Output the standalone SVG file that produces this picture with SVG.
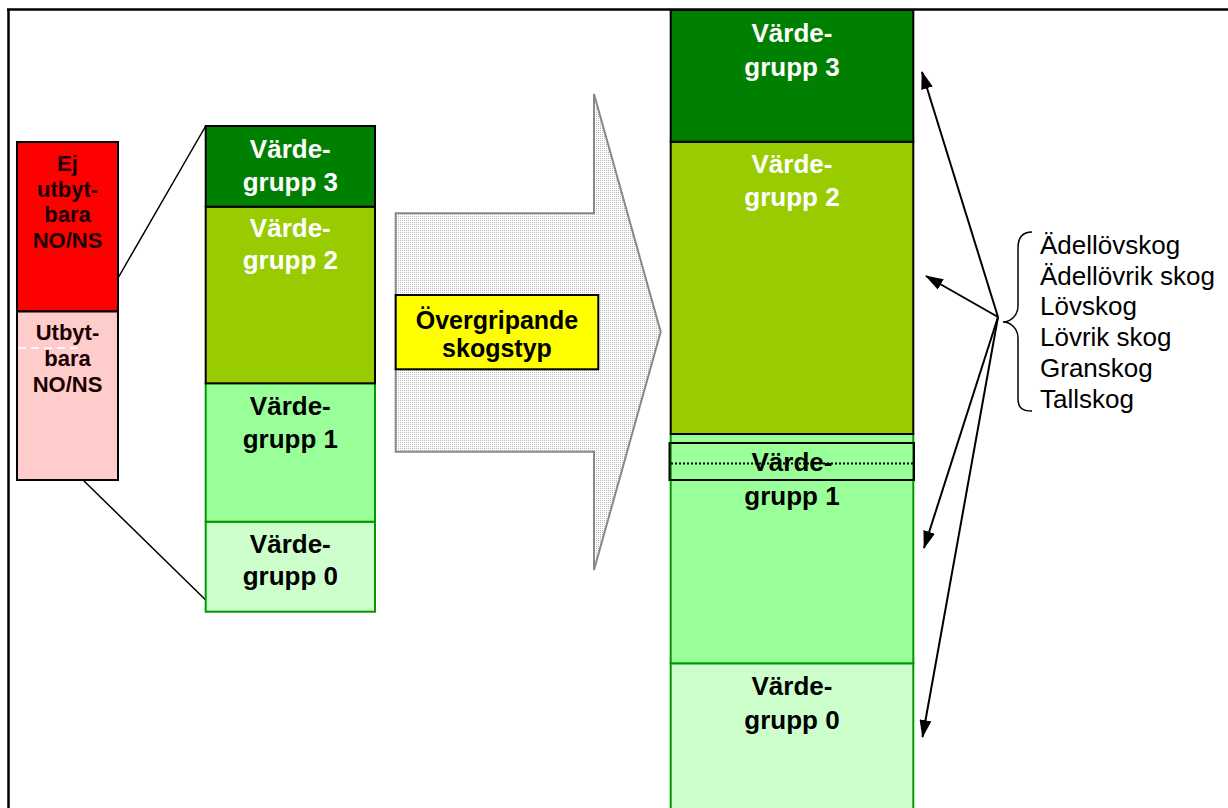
<svg xmlns="http://www.w3.org/2000/svg" width="1228" height="808" viewBox="0 0 1228 808">
<style>
.b{font-family:"Liberation Sans",Arial,sans-serif;font-weight:bold;text-anchor:middle}
.vg{font-size:26px}
.w{fill:#ffffff}
.k{fill:#000000}
.sm{font-size:22px;fill:#1a0000}
.lst{font-family:"Liberation Sans",Arial,sans-serif;font-size:26px;fill:#000}
.bk{stroke:#000;stroke-width:2}
.gr{stroke:#009900;stroke-width:2}
.con{stroke:#000;stroke-width:1.5;fill:none}
.arr{stroke:#000;stroke-width:2;fill:none;marker-end:url(#ah)}
</style>
<defs>
<pattern id="dots" width="2" height="2" patternUnits="userSpaceOnUse">
<rect width="2" height="2" fill="#ffffff"/>
<rect width="1" height="1" fill="#b8b8b8"/>
</pattern>
<marker id="ah" markerUnits="userSpaceOnUse" markerWidth="18" markerHeight="12" viewBox="0 0 18 12" refX="17" refY="6" orient="auto">
<path d="M0,0 L18,6 L0,12 z" fill="#000"/>
</marker>
</defs>
<rect width="1228" height="808" fill="#ffffff"/>
<g id="frame">
<line x1="7" y1="9.5" x2="1228" y2="9.5" stroke="#000" stroke-width="2.5"/>
<line x1="8.5" y1="9" x2="8.5" y2="808" stroke="#000" stroke-width="2.5"/>
</g>
<g id="connectors">
<line class="con" x1="118" y1="278" x2="205.7" y2="126"/>
<line class="con" x1="83" y1="480" x2="205.7" y2="600"/>
<line class="arr" x1="998" y1="317" x2="922" y2="72"/>
<line class="arr" x1="998" y1="317" x2="926" y2="276"/>
<line class="arr" x1="998" y1="317" x2="924" y2="548"/>
<line class="arr" x1="998" y1="317" x2="922.5" y2="737"/>
</g>
<g id="nsbox-ej">
<rect x="17" y="142" width="101" height="169.5" fill="#ff0000" class="bk"/>
<text class="b sm" x="67.5" y="170.5">Ej</text>
<text class="b sm" x="67.5" y="196.5">utbyt-</text>
<text class="b sm" x="67.5" y="221.5">bara</text>
<text class="b sm" x="67.5" y="247.5">NO/NS</text>
</g>
<g id="nsbox-utb">
<rect x="17" y="311.5" width="101" height="168.5" fill="#ffcccc" class="bk"/>
<line x1="18" y1="348" x2="80" y2="348" stroke="#ffffff" stroke-width="1.5" stroke-dasharray="8,5"/>
<text class="b sm" x="67.5" y="340">Utbyt-</text>
<text class="b sm" x="67.5" y="366">bara</text>
<text class="b sm" x="67.5" y="392">NO/NS</text>
</g>
<g id="mid-vg0">
<rect x="205.7" y="521.7" width="169.3" height="90" fill="#ccffcc" class="gr"/>
<text class="b vg k" x="290.3" y="553">Värde-</text>
<text class="b vg k" x="290.3" y="585">grupp 0</text>
</g>
<g id="mid-vg1">
<rect x="205.7" y="383.3" width="169.3" height="138.4" fill="#99ff99" class="gr"/>
<text class="b vg k" x="290.3" y="415">Värde-</text>
<text class="b vg k" x="290.3" y="448">grupp 1</text>
</g>
<g id="mid-vg2">
<rect x="205.7" y="206.7" width="169.3" height="176.6" fill="#99cc00" class="bk"/>
<text class="b vg w" x="290.3" y="237">Värde-</text>
<text class="b vg w" x="290.3" y="268.5">grupp 2</text>
</g>
<g id="mid-vg3">
<rect x="205.7" y="126" width="169.3" height="80.7" fill="#008000" class="bk"/>
<text class="b vg w" x="290.3" y="158">Värde-</text>
<text class="b vg w" x="290.3" y="190.5">grupp 3</text>
</g>
<g id="big-arrow">
<path d="M395.7,213.3 L594,213.3 L594,94 L660.7,331.7 L594,570 L594,451.7 L395.7,451.7 Z" fill="url(#dots)" stroke="#888888" stroke-width="2"/>
</g>
<g id="skogstyp">
<rect x="395.7" y="295" width="202.6" height="74.3" fill="#ffff00" stroke="#000" stroke-width="2"/>
<text class="b k" font-size="25" x="497" y="328.5">Övergripande</text>
<text class="b k" font-size="25" x="497" y="356.5">skogstyp</text>
</g>
<g id="right-vg0">
<rect x="670.7" y="663.3" width="242.6" height="160" fill="#ccffcc" class="gr"/>
<text class="b vg k" x="792" y="695">Värde-</text>
<text class="b vg k" x="792" y="728.5">grupp 0</text>
</g>
<g id="right-vg1">
<rect x="670.7" y="434" width="242.6" height="229.3" fill="#99ff99" class="gr"/>
<text class="b vg k" x="792" y="471">Värde-</text>
<text class="b vg k" x="792" y="505">grupp 1</text>
</g>
<g id="right-vg2">
<rect x="670.7" y="141.7" width="242.6" height="292.3" fill="#99cc00" class="bk"/>
<text class="b vg w" x="792" y="173">Värde-</text>
<text class="b vg w" x="792" y="206">grupp 2</text>
</g>
<g id="right-vg3">
<rect x="670.7" y="10" width="242.6" height="131.7" fill="#008000" class="bk"/>
<text class="b vg w" x="792" y="41.5">Värde-</text>
<text class="b vg w" x="792" y="76">grupp 3</text>
</g>
<g id="dotted-box">
<rect x="669.5" y="443" width="244.5" height="37" fill="none" stroke="#000" stroke-width="2"/>
<line x1="671" y1="463.5" x2="913" y2="463.5" stroke="#000" stroke-width="2" stroke-dasharray="2,2"/>
</g>
<g id="forest-types">
<path d="M1032,232 C1022,232 1018,238 1018,248 L1018,306 C1018,316 1010,322 1003,322 C1010,322 1018,328 1018,338 L1018,398 C1018,408 1022,411 1032,411" fill="none" stroke="#000" stroke-width="1.5"/>
<text class="lst" x="1040" y="253.5">Ädellövskog</text>
<text class="lst" x="1040" y="284.5">Ädellövrik skog</text>
<text class="lst" x="1040" y="315">Lövskog</text>
<text class="lst" x="1040" y="346">Lövrik skog</text>
<text class="lst" x="1040" y="377">Granskog</text>
<text class="lst" x="1040" y="408">Tallskog</text>
</g>
</svg>
